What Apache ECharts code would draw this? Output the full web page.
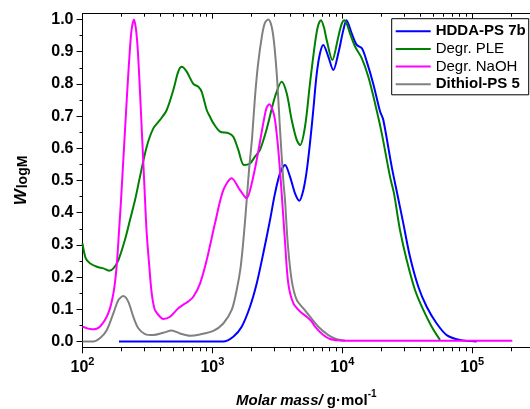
<!DOCTYPE html>
<html>
<head>
<meta charset="utf-8">
<script src="https://cdn.jsdelivr.net/npm/echarts@6/dist/echarts.min.js"></script>
<style>
  html, body { margin: 0; padding: 0; background: #fff; }
  #chart { width: 530px; height: 409px; }
</style>
</head>
<body>
<div id="chart"></div>
<script>
// Molar mass distributions (w logM against M, g/mol)
const seriesNames = ['HDDA-PS 7b', 'Degr. PLE', 'Degr. NaOH', 'Dithiol-PS 5'];
const boldNames = ['HDDA-PS 7b', 'Dithiol-PS 5'];

const massHDDA = [191, 1213, 1448, 1681, 1947, 2193, 2465, 2776, 3033, 3314, 3621, 3957, 4325, 4668, 5011, 5322, 5640, 5980, 6350, 6735, 7140, 7800, 8525, 9316, 10180, 10770, 11810, 12910, 14180, 15410, 17320, 19510, 20690, 24000, 26600, 29490, 33200, 38480, 44630, 53290, 63630, 80540, 108300];
const wHDDA = [0, 0, 0.015, 0.046, 0.108, 0.18, 0.274, 0.377, 0.46, 0.522, 0.548, 0.512, 0.46, 0.437, 0.47, 0.53, 0.616, 0.719, 0.83, 0.895, 0.921, 0.885, 0.843, 0.895, 0.967, 0.998, 0.957, 0.921, 0.91, 0.87, 0.8, 0.715, 0.688, 0.543, 0.455, 0.367, 0.263, 0.17, 0.108, 0.056, 0.02, 0.005, 0];

const massPLE = [100, 106, 114, 129, 145, 160, 173, 189, 212, 232, 254, 277, 312, 351, 395, 445, 500, 546, 580, 634, 713, 779, 827, 904, 958, 1016, 1144, 1326, 1448, 1583, 1751, 1947, 2128, 2325, 2618, 3033, 3415, 3732, 4078, 4457, 4725, 5163, 5640, 6163, 6500, 6856, 7230, 7585, 8376, 9316, 9860, 10360, 10870, 11460, 12530, 14110, 15860, 17860, 20110, 23290, 25000, 27810, 31310, 36280, 42020, 48780, 56500];
const wPLE = [0.305, 0.258, 0.243, 0.232, 0.227, 0.22, 0.227, 0.253, 0.315, 0.377, 0.44, 0.512, 0.605, 0.662, 0.688, 0.719, 0.781, 0.838, 0.853, 0.838, 0.8, 0.791, 0.775, 0.719, 0.698, 0.678, 0.652, 0.647, 0.636, 0.595, 0.548, 0.553, 0.574, 0.595, 0.66, 0.76, 0.807, 0.771, 0.688, 0.626, 0.61, 0.667, 0.802, 0.926, 0.98, 0.998, 0.975, 0.936, 0.874, 0.946, 0.985, 0.998, 0.985, 0.957, 0.916, 0.88, 0.822, 0.74, 0.647, 0.512, 0.46, 0.346, 0.253, 0.16, 0.098, 0.046, 0.005];

const massNaOH = [100, 118, 136, 158, 173, 183, 192, 198, 219, 231, 239, 249, 258, 267, 279, 303, 312, 327, 341, 361, 395, 419, 472, 546, 604, 652, 713, 803, 904, 1047, 1213, 1408, 1631, 1837, 2007, 2193, 2465, 2609, 2742, 2902, 3033, 3216, 3415, 3621, 3840, 4196, 4725, 5322, 5813, 6163, 7140, 8042, 9600, 10820, 203700];
const wNaOH = [0.046, 0.038, 0.046, 0.088, 0.15, 0.232, 0.356, 0.44, 0.75, 0.9, 0.97, 1.0, 0.97, 0.9, 0.75, 0.44, 0.337, 0.232, 0.15, 0.098, 0.077, 0.07, 0.077, 0.103, 0.116, 0.124, 0.139, 0.18, 0.253, 0.367, 0.47, 0.507, 0.47, 0.445, 0.491, 0.564, 0.678, 0.725, 0.737, 0.72, 0.688, 0.595, 0.46, 0.31, 0.18, 0.119, 0.093, 0.077, 0.062, 0.046, 0.02, 0.008, 0.003, 0.002, 0.002];

const massDithiol = [100, 121, 136, 154, 173, 189, 206, 225, 246, 269, 303, 351, 419, 486, 563, 672, 803, 1016, 1213, 1408, 1538, 1651, 1751, 1837, 1924, 2018, 2128, 2244, 2409, 2541, 2694, 2851, 2980, 3143, 3314, 3514, 3621, 3800, 4078, 4457, 5011, 5640, 6536, 7800, 8943, 10490];
const wDithiol = [0, 0, 0.01, 0.036, 0.088, 0.129, 0.141, 0.124, 0.077, 0.041, 0.023, 0.02, 0.027, 0.034, 0.025, 0.018, 0.022, 0.033, 0.056, 0.098, 0.16, 0.232, 0.336, 0.44, 0.543, 0.63, 0.76, 0.86, 0.95, 0.99, 1.0, 0.98, 0.93, 0.82, 0.66, 0.5, 0.44, 0.305, 0.19, 0.129, 0.103, 0.077, 0.046, 0.02, 0.008, 0.003];

// Tick positions
const yMajorTicks = [0, 0.1, 0.2, 0.3, 0.4, 0.5, 0.6, 0.7, 0.8, 0.9, 1.0];
const yMinorTicks = [0.05, 0.15, 0.25, 0.35, 0.45, 0.55, 0.65, 0.75, 0.85, 0.95];
const decades = [2, 3, 4, 5];
const minorMultipliers = [2, 3, 4, 5, 6, 7, 8, 9];

const FONT = '"Liberation Sans", Arial, Helvetica, sans-serif';

// minor ticks on the log axis, expressed as log10(M) for a linear helper axis
const xMinorLog = [];
decades.forEach(function (d) {
  minorMultipliers.forEach(function (m) { xMinorLog.push(d + Math.log10(m)); });
});

function zip(xs, ys) { return xs.map(function (x, i) { return [x, ys[i]]; }); }

const chart = echarts.init(document.getElementById('chart'), null, { renderer: 'canvas' });

const Y_MIN = -0.018, Y_MAX = 1.018;

const baseX = {
  min: 100, max: 1e6, logBase: 10,
  splitLine: { show: false },
  axisLine: { onZero: false, lineStyle: { color: '#000', width: 1 } }
};

function lineSeries(name, xs, ys, color) {
  return {
    name: name, type: 'line', xAxisIndex: 0, yAxisIndex: 0,
    data: zip(xs, ys), symbol: 'none', smooth: 0.3,
    color: color, lineStyle: { color: color, width: 2 },
    emphasis: { disabled: true }, animation: false
  };
}

chart.setOption({
  animation: false,
  backgroundColor: '#fff',
  textStyle: { fontFamily: FONT },
  grid: { left: 82.5, top: 13.7, width: 519.6, height: 333.6, containLabel: false, outerBoundsMode: 'none' },
  legend: {
    data: seriesNames,
    orient: 'vertical',
    left: 391.7, top: 18.7,
    padding: [5, 3, 3, 4],
    itemGap: 2.7,
    itemWidth: 35, itemHeight: 2,
    icon: 'rect',
    borderColor: '#000', borderWidth: 1,
    backgroundColor: '#fff',
    selectedMode: false,
    formatter: function (name) {
      return (boldNames.indexOf(name) >= 0 ? '{b|' : '{n|') + name + '}';
    },
    textStyle: {
      padding: [0, 0, 0, 0],
      rich: {
        b: { fontFamily: FONT, fontSize: 15, fontWeight: 'bold', color: '#000', lineHeight: 16 },
        n: { fontFamily: FONT, fontSize: 15, color: '#000', lineHeight: 16 }
      }
    }
  },
  xAxis: [
    Object.assign({}, baseX, {
      type: 'log', position: 'bottom',
      axisTick: { show: true, inside: false, length: 6, lineStyle: { color: '#000' } },
      axisLabel: {
        margin: 9,
        formatter: function (v) { return '{b|10}{s|' + Math.round(Math.log10(v)) + '}'; },
        rich: {
          b: { fontFamily: FONT, fontSize: 16, fontWeight: 'bold', color: '#000', lineHeight: 22, verticalAlign: 'middle' },
          s: { fontFamily: FONT, fontSize: 11, fontWeight: 'bold', color: '#000', lineHeight: 10, verticalAlign: 'top' }
        }
      }
    }),
    {
      type: 'value', position: 'bottom', min: 2, max: 6,
      splitLine: { show: false },
      axisLine: { show: false, onZero: false },
      axisLabel: { show: false },
      axisTick: { show: true, inside: false, length: 4, customValues: xMinorLog, lineStyle: { color: '#000' } }
    },
    Object.assign({}, baseX, {
      type: 'log', position: 'top',
      axisTick: { show: true, inside: true, length: 5, lineStyle: { color: '#000' } },
      axisLabel: { show: false }
    }),
    {
      type: 'value', position: 'top', min: 2, max: 6,
      splitLine: { show: false },
      axisLine: { show: false, onZero: false },
      axisLabel: { show: false },
      axisTick: { show: true, inside: true, length: 3, customValues: xMinorLog, lineStyle: { color: '#000' } }
    }
  ],
  yAxis: [
    {
      type: 'value', position: 'left', min: Y_MIN, max: Y_MAX,
      splitLine: { show: false },
      axisLine: { show: true, onZero: false, lineStyle: { color: '#000', width: 1 } },
      axisTick: { show: true, inside: false, length: 6, customValues: yMajorTicks, lineStyle: { color: '#000' } },
      axisLabel: {
        customValues: yMajorTicks, margin: 9,
        fontFamily: FONT, fontSize: 16, fontWeight: 'bold', color: '#000',
        formatter: function (v) { return v.toFixed(1); }
      },
      name: '{w|W}{s|logM}',
      nameLocation: 'middle', nameRotate: 90, nameGap: 52,
      nameTextStyle: {
        rich: {
          w: { fontFamily: FONT, fontSize: 17, fontWeight: 'bold', fontStyle: 'italic', color: '#000', lineHeight: 18, verticalAlign: 'top' },
          s: { fontFamily: FONT, fontSize: 14, fontWeight: 'bold', color: '#000', lineHeight: 14, padding: [6, 0, 0, 1], verticalAlign: 'bottom' }
        }
      }
    },
    {
      type: 'value', position: 'left', min: Y_MIN, max: Y_MAX,
      splitLine: { show: false },
      axisLine: { show: false, onZero: false },
      axisLabel: { show: false },
      axisTick: { show: true, inside: false, length: 3, customValues: yMinorTicks, lineStyle: { color: '#000' } }
    }
  ],
  graphic: [
    {
      type: 'text', left: 236, top: 388.8, silent: true,
      style: {
        text: '{i|Molar mass/}{b| g\u00b7mol}{s|-1}',
        rich: {
          i: { fontFamily: FONT, fontSize: 15, fontWeight: 'bold', fontStyle: 'italic', fill: '#000', lineHeight: 20, verticalAlign: 'bottom' },
          b: { fontFamily: FONT, fontSize: 15, fontWeight: 'bold', fill: '#000', lineHeight: 20, verticalAlign: 'bottom' },
          s: { fontFamily: FONT, fontSize: 10, fontWeight: 'bold', fill: '#000', lineHeight: 10, verticalAlign: 'top' }
        }
      }
    }
  ],
  series: [
    lineSeries('HDDA-PS 7b', massHDDA, wHDDA, '#0000ff'),
    lineSeries('Degr. PLE', massPLE, wPLE, '#008000'),
    lineSeries('Dithiol-PS 5', massDithiol, wDithiol, '#808080'),
    lineSeries('Degr. NaOH', massNaOH, wNaOH, '#ff00ff')
  ]
});
</script>
</body>
</html>
